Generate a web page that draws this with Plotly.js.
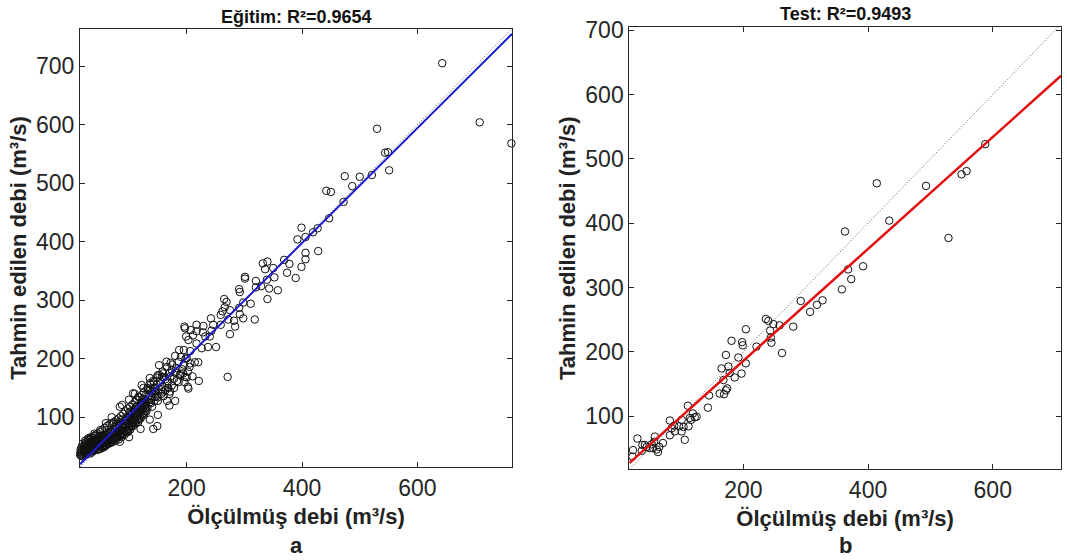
<!DOCTYPE html>
<html>
<head>
<meta charset="utf-8">
<script src="https://cdn.plot.ly/plotly-3.0.1.min.js"></script>
<style>html,body{margin:0;padding:0;background:#fff;}#chart{width:1067px;height:560px;}</style>
</head>
<body>
<div id="chart"></div>
<script>
// ---- Training (Eğitim) data: measured vs predicted discharge (m3/s)
const trainX = [
15,16,17,18,19,20,21,22,23,24,25,26,27,28,29,30,31,32,33,34,35,36,37,38,39,40,41,42,43,44,45,46,47,48,49,50,
51,52,53,54,55,56,57,58,59,60,61,62,63,64,65,66,67,68,69,70,71,72,73,74,75,76,77,78,79,80,81,82,83,84,85,86,
87,88,89,90,91,92,93,94,95,96,97,98,99,100,101,102,103,104,105,106,107,108,109,110,111,112,113,114,115,116,117,
118,119,120,121,122,123,124,125,126,127,128,129,130,132,134,136,138,140,142,144,146,148,150,152,154,156,158,160,
163,166,170,174,178,182,186,190,195,200,205,
20,25,30,35,40,45,50,55,60,65,70,75,80,85,90,95,100,105,110,115,120,125,130,135,140,145,
22,28,33,38,43,48,53,58,63,68,73,78,83,88,93,98,103,108,113,118,123,128,133,138,143,148,
16,18,20,22,24,26,28,30,32,34,36,38,40,17,19,21,23,25,27,29,31,33,35,37,39,
42,44,46,48,50,52,54,56,58,60,62,64,66,68,70,72,74,76,78,80,45,50,55,60,65,70,75,80,
82,84,86,88,90,92,94,96,98,100,102,104,106,108,110,112,114,116,118,120,122,124,126,128,130,
85,90,95,100,105,110,115,120,125,130,
132,135,138,140,142,145,148,150,153,156,158,160,163,166,168,170,172,175,178,180,183,186,188,192,196,198,202,206,210,
32,40,50,60,70,84,88,84,100,120,136,150,170,180,100,110,125,136,150,165,180,195,
142,149,166,202,
472,399,419,427,392,406,406,428,406,399,389,374,378,369,332,340,336,350,352,339,320,301,301,343,358,340,329,320,
291,292,311,298,291,265,269,266,275,262,259,292,282,298,284,272,275,318,242,259,246,243,229,217,196,197,207,217,
228,240,232,199,211,203,217,237,251,187,206,226,190,200,214,220,172,152,174,194,197,221,271,203,159,157,168,136,
122,133,145,159,171,116,107,
643,708,530,549,544,551,521,500,474,487,450,442,447,763
];
const trainY = [
36,40,34,38,44,37,41,35,46,39,43,48,38,52,42,47,55,44,50,58,46,53,49,60,45,52,62,50,56,47,64,54,51,59,66,53,
57,49,61,55,68,58,52,63,56,70,60,54,65,59,72,62,57,67,61,75,64,58,69,63,78,66,60,72,65,82,68,62,75,70,86,72,
66,78,74,90,76,70,82,78,95,80,74,88,84,100,86,79,94,90,106,92,85,99,96,112,98,90,105,102,118,104,96,
110,108,125,112,102,118,114,132,120,108,126,122,140,116,130,146,124,136,150,128,142,156,134,148,162,140,152,168,
146,158,176,154,166,184,160,174,190,168,186,
45,36,40,56,44,50,62,50,58,66,62,70,74,78,82,86,92,98,104,110,116,124,128,138,144,150,
50,45,38,42,60,46,66,50,70,56,74,68,88,70,90,76,110,92,118,100,130,112,146,130,160,136,
45,50,55,42,60,52,58,62,48,66,60,55,68,42,33,48,53,57,45,64,50,62,40,65,58,
70,62,72,68,75,64,78,70,82,66,85,74,88,78,90,70,92,84,95,88,44,46,48,52,55,58,62,66,
98,92,102,96,106,88,110,100,115,108,118,84,122,112,126,118,130,92,134,122,138,106,142,130,118,
68,72,76,80,86,90,95,98,104,110,
150,125,156,118,162,135,168,128,172,148,178,136,165,186,150,140,170,190,150,176,162,195,172,182,160,200,178,192,170,
64,72,78,90,100,58,121,118,66,80,96,104,120,128,130,140,150,158,172,195,205,215,
80,85,128,152,
468,424,416,423,404,408,381,384,370,357,338,347,362,369,363,366,353,355,339,335,333,340,337,320,317,302,324,322,
319,314,294,296,287,302,297,288,283,281,275,276,265,269,255,267,242,267,269,258,258,248,256,258,255,252,249,247,
245,238,238,238,240,232,226,220,220,215,213,218,203,201,194,194,193,189,181,175,169,162,169,149,175,169,161,167,
155,149,144,144,144,135,141,
705,604,593,553,552,522,514,511,512,495,485,487,440,568
];
// ---- Test data
const testX = [
588,550,558,493,414,434,529,363,368,392,373,358,327,
292,318,307,280,262,236,240,248,258,243,244,245,221,204,181,198,199,172,192,204,165,176,178,197,186,168,174,172,
162,169,145,143,111,119,122,125,114,116,101,82,97,89,85,104,112,90,101,106,82,71,65,58,57,53,50,45,42,38,63,30,
23,22,37,55,61
];
const testY = [
523,476,481,458,462,404,377,387,328,333,313,297,280,
279,273,262,239,198,251,248,243,241,233,222,214,208,235,217,215,210,195,191,182,174,177,167,166,160,156,143,140,
135,134,132,113,116,104,98,99,97,94,94,93,84,85,81,83,84,76,76,63,70,58,52,68,60,56,50,52,55,55,44,65,
47,37,46,50,48
];
// ---- Fit lines (slope, intercept) and axis limits
const trainFit = [0.982, 5];
const testFit = [0.87, 12];
const trainLim = [15, 764];
const trainYLim = [15, 763.5];
const testLim = [17, 709.5];
const testYLim = [17.6, 704.7];
const xTicks = [200, 400, 600];
const yTicks = [100, 200, 300, 400, 500, 600, 700];

const FONT = '"Liberation Sans", Arial, Helvetica, sans-serif';
const AX = '#262626';

function fitLine(fit, lim) { return {x: lim.slice(), y: lim.map(v => fit[0] * v + fit[1])}; }
const tl = fitLine(trainFit, trainLim), sl = fitLine(testFit, testLim);

const marker = {symbol: 'circle-open', size: 7.5, color: '#111', line: {width: 1, color: '#111'}};
const dotted = {color: '#555', width: 1, dash: '1px,2px'};

const traces = [
  {x: trainLim, y: trainLim, mode: 'lines', line: dotted, xaxis: 'x', yaxis: 'y', hoverinfo: 'skip'},
  {x: trainX, y: trainY, mode: 'markers', marker: marker, cliponaxis: false, xaxis: 'x', yaxis: 'y', name: 'Eğitim'},
  {x: tl.x, y: tl.y, mode: 'lines', line: {color: '#1a1ad0', width: 2}, xaxis: 'x', yaxis: 'y'},
  {x: testLim, y: testLim, mode: 'lines', line: dotted, xaxis: 'x2', yaxis: 'y2', hoverinfo: 'skip'},
  {x: testX, y: testY, mode: 'markers', marker: marker, cliponaxis: false, xaxis: 'x2', yaxis: 'y2', name: 'Test'},
  {x: sl.x, y: sl.y, mode: 'lines', line: {color: '#e01010', width: 2.5}, xaxis: 'x2', yaxis: 'y2'}
];

function axis(extra) {
  return Object.assign({
    showline: true, mirror: 'ticks', linecolor: AX, linewidth: 1,
    ticks: 'inside', ticklen: 5, tickcolor: AX, tickwidth: 1,
    showgrid: false, zeroline: false, tickmode: 'array',
    tickfont: {family: FONT, size: 23, color: AX}
  }, extra);
}
const xTitle = {text: 'Ölçülmüş debi (m³/s)', font: {family: FONT, size: 22, color: '#222', weight: 'bold'}, standoff: 9};
const yTitle = {text: 'Tahmin edilen debi (m³/s)', font: {family: FONT, size: 22, color: '#222', weight: 'bold'}, standoff: 3};

const layout = {
  width: 1067, height: 560,
  margin: {l: 0, r: 0, t: 0, b: 0},
  paper_bgcolor: '#fff', plot_bgcolor: '#fff',
  showlegend: false,
  font: {family: FONT, color: AX},
  xaxis: axis({domain: [80/1067, 512/1067], range: trainLim, tickvals: xTicks, title: xTitle, anchor: 'y'}),
  yaxis: axis({domain: [1-467/560, 1-29/560], range: trainYLim, tickvals: yTicks, title: yTitle, anchor: 'x'}),
  xaxis2: axis({domain: [629.3/1067, 1061/1067], range: testLim, tickvals: xTicks, title: xTitle, anchor: 'y2'}),
  yaxis2: axis({domain: [1-469/560, 1-27.3/560], range: testYLim, tickvals: yTicks, title: yTitle, anchor: 'x2'}),
  annotations: [
    {text: 'Eğitim: R²=0.9654', xref: 'paper', yref: 'paper', x: 296/1067, y: 1-16.5/560, xanchor: 'center', yanchor: 'middle', showarrow: false, font: {family: FONT, size: 18, color: '#111', weight: 'bold'}},
    {text: 'Test: R²=0.9493', xref: 'paper', yref: 'paper', x: 845/1067, y: 1-14/560, xanchor: 'center', yanchor: 'middle', showarrow: false, font: {family: FONT, size: 18, color: '#111', weight: 'bold'}},
    {text: 'a', xref: 'paper', yref: 'paper', x: 296/1067, y: 0, xanchor: 'center', yanchor: 'bottom', showarrow: false, font: {family: FONT, size: 22, color: '#222', weight: 'bold'}},
    {text: 'b', xref: 'paper', yref: 'paper', x: 845/1067, y: 0, xanchor: 'center', yanchor: 'bottom', showarrow: false, font: {family: FONT, size: 22, color: '#222', weight: 'bold'}}
  ]
};

Plotly.newPlot('chart', traces, layout, {staticPlot: true, displayModeBar: false});
</script>
</body>
</html>
